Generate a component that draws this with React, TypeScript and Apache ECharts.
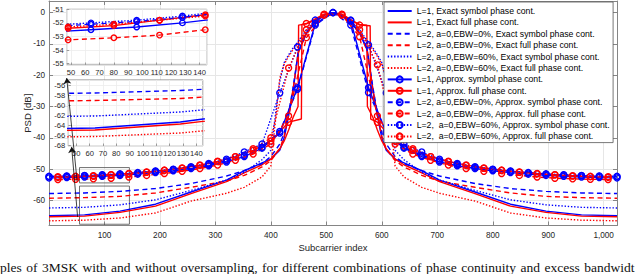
import { useEffect, useRef } from "react";
import * as echarts from "echarts";

// ---------- data ----------
const xExact = [0, 64, 128, 192, 256, 320, 352, 384, 400, 416, 424, 432, 440, 449, 450, 464, 480, 496, 512, 528, 544, 560, 573, 574, 584, 592, 600, 608, 624, 640, 672, 704, 768, 832, 896, 960, 1024];
const exactL1Symbol = [-64.9, -64.6, -63.4, -61.2, -57.3, -53.5, -50.5, -48.0, -46.8, -44.0, -40.0, -33.0, -25.0, -13.0, -12.3, -6.5, -3.0, -0.8, 0, -0.8, -3.0, -6.5, -11.6, -12.3, -25.0, -33.0, -40.0, -44.0, -46.8, -48.0, -50.5, -53.5, -57.3, -61.2, -63.4, -64.6, -64.9];
const exactL1Full = [-65.2, -65.0, -63.8, -61.8, -57.8, -54.0, -51.2, -48.6, -46.8, -43.5, -41.0, -37.5, -33.5, -30.0, -4.0, -3.6, -2.4, -0.6, 0, -0.6, -2.4, -3.8, -4.0, -30.0, -33.5, -37.5, -41.0, -43.5, -46.8, -48.6, -51.2, -54.0, -57.8, -61.8, -63.8, -65.0, -65.2];
const exactEbw0Symbol = [-57.8, -57.6, -57.1, -56.2, -54.6, -52.2, -50.5, -48.2, -46.0, -42.0, -38.5, -32.0, -24.0, -13.0, -12.3, -6.5, -3.0, -0.8, 0, -0.8, -3.0, -6.5, -11.6, -12.3, -24.0, -32.0, -38.5, -42.0, -46.0, -48.2, -50.5, -52.2, -54.6, -56.2, -57.1, -57.6, -57.8];
const exactEbw0Full = [-59.3, -59.1, -58.7, -57.6, -55.8, -53.8, -52.0, -49.3, -47.3, -43.5, -39.5, -32.5, -24.5, -13.3, -12.6, -6.7, -3.1, -0.8, 0, -0.8, -3.1, -6.7, -11.9, -12.6, -24.5, -32.5, -39.5, -43.5, -47.3, -49.3, -52.0, -53.8, -55.8, -57.6, -58.7, -59.1, -59.3];
const exactEbw60Symbol = [-62.4, -62.2, -61.4, -59.8, -56.8, -53.5, -51.0, -47.0, -44.0, -22.0, -16.0, -13.5, -11.3, -9.3, -9.0, -5.5, -2.5, -0.6, 0, -0.6, -2.5, -5.5, -8.8, -9.0, -11.3, -13.5, -16.0, -22.0, -44.0, -47.0, -51.0, -53.5, -56.8, -59.8, -61.4, -62.2, -62.4];
const exactEbw60Full = [-66.5, -66.3, -65.6, -64.0, -60.2, -57.7, -55.8, -52.5, -49.0, -21.0, -16.5, -14.0, -11.8, -9.8, -9.5, -5.8, -2.6, -0.7, 0, -0.7, -2.6, -5.8, -9.3, -9.5, -11.8, -14.0, -16.5, -21.0, -49.0, -52.5, -55.8, -57.7, -60.2, -64.0, -65.6, -66.3, -66.5];

const xBlueApprox = [0, 32, 64, 96, 128, 160, 192, 224, 256, 288, 320, 352, 384, 416, 448, 480, 512, 544, 576, 608, 640, 672, 704, 736, 768, 800, 832, 864, 896, 928, 960, 992, 1024];
const approxL1Symbol = [-52.8, -52.7, -52.5, -52.3, -52.0, -51.6, -51.1, -50.5, -49.8, -48.9, -47.7, -46.0, -43.3, -38.5, -24.0, -3.5, 0, -2.6, -24.0, -38.5, -43.3, -46.0, -47.7, -48.9, -49.8, -50.5, -51.1, -51.6, -52.0, -52.3, -52.5, -52.7, -52.8];
const approxEbw0Symbol = [-52.4, -52.3, -52.1, -51.9, -51.6, -51.2, -50.7, -50.1, -49.4, -48.5, -47.3, -45.6, -43.0, -38.0, -24.5, -4.0, 0, -4.0, -25.5, -38.0, -43.0, -45.6, -47.3, -48.5, -49.4, -50.1, -50.7, -51.2, -51.6, -51.9, -52.1, -52.3, -52.4];
const approxEbw60Symbol = [-52.3, -52.2, -52.0, -51.8, -51.5, -51.1, -50.6, -50.0, -49.2, -48.2, -46.8, -44.5, -42.0, -25.7, -11.0, -2.4, 0, -2.4, -10.3, -25.7, -42.0, -44.5, -46.8, -48.2, -49.2, -50.0, -50.6, -51.1, -51.5, -51.8, -52.0, -52.2, -52.3];

const xRedApprox = [16, 48, 80, 112, 144, 176, 208, 240, 272, 304, 336, 368, 400, 432, 464, 496, 528, 560, 592, 624, 656, 688, 720, 752, 784, 816, 848, 880, 912, 944, 976, 1008];
const approxEbw0Full = [-53.3, -53.25, -53.1, -52.9, -52.5, -52.0, -51.4, -50.7, -49.8, -48.7, -47.2, -45.2, -42.0, -33.0, -8.0, -0.8, -0.8, -7.7, -33.0, -42.0, -45.2, -47.2, -48.7, -49.8, -50.7, -51.4, -52.0, -52.5, -52.9, -53.1, -53.25, -53.3];
const approxEbw60Full = [-52.4, -52.3, -52.1, -51.8, -51.5, -51.0, -50.4, -49.7, -48.8, -47.6, -46.0, -43.5, -40.0, -17.7, -5.5, -0.6, -0.6, -5.5, -16.7, -40.0, -43.5, -46.0, -47.6, -48.8, -49.7, -50.4, -51.0, -51.5, -51.8, -52.1, -52.3, -52.4];

const xRedStepApprox = [16, 48, 80, 112, 144, 176, 208, 240, 272, 304, 336, 368, 400, 432, 455, 456, 464, 496, 528, 560, 579, 580, 592, 624, 656, 688, 720, 752, 784, 816, 848, 880, 912, 944, 976, 1008];
const approxL1Full = [-52.6, -52.4, -52.2, -51.8, -51.4, -50.9, -50.3, -49.6, -48.7, -47.5, -46.0, -44.0, -41.0, -35.0, -34.0, -3.8, -3.5, -0.5, -0.5, -4.0, -4.2, -34.0, -35.0, -41.0, -44.0, -46.0, -47.5, -48.7, -49.6, -50.3, -50.9, -51.4, -51.8, -52.2, -52.4, -52.6];

const legendNames = [
  "L=1, Exact symbol phase cont.",
  "L=1, Exact full phase cont.",
  "L=2, a=0,EBW=0%, Exact symbol phase cont.",
  "L=2, a=0,EBW=0%, Exact full phase cont.",
  "L=2, a=0,EBW=60%, Exact symbol phase cont.",
  "L=2, a=0,EBW=60%, Exact full phase cont.",
  "L=1, Approx. symbol phase cont.",
  "L=1, Approx. full phase cont.",
  "L=2, a=0,EBW=0%, Approx. symbol phase cont.",
  "L=2, a=0,EBW=0%, Approx. full phase cont.",
  "L=2,\u00a0 a=0,EBW=60%, Approx. symbol phase cont.",
  "L=2,\u00a0 a=0,EBW=60%, Approx. full phase cont.",
];

// zoom boxes and arrows (annotations, data coordinates)
const zoomBoxX = [55, 145];
const zoomBox1Y = [-49.5, -54.4];
const zoomBox2Y = [-55.4, -67.6];
const arrow1 = [[50.7, -53.8], [31.9, -20.9]];
const arrow2 = [[51.6, -65.3], [40.8, -42.9]];

const captionWords = [
  "ples", "of", "3MSK", "with", "and", "without", "oversampling,", "for", "different",
  "combinations", "of", "phase", "continuity", "and", "excess", "bandwidt",
];

const BLUE = "#0000ff";
const RED = "#ff0000";
const FONT = "Liberation Sans, Arial, Helvetica, sans-serif";
const TXT = "#262626";
const AXC = "#858585";

type Spec = {
  name: string;
  xs: number[];
  ys: number[];
  color: string;
  dash: any;
  marker: boolean;
  markerOffset?: number;
};

const DASHED = [5, 3.5];
const DOTTED = [1.4, 1.8];

const exactSpecs: Spec[] = [
  { name: legendNames[0], xs: xExact, ys: exactL1Symbol, color: BLUE, dash: "solid", marker: false },
  { name: legendNames[1], xs: xExact, ys: exactL1Full, color: RED, dash: "solid", marker: false },
  { name: legendNames[2], xs: xExact, ys: exactEbw0Symbol, color: BLUE, dash: DASHED, marker: false },
  { name: legendNames[3], xs: xExact, ys: exactEbw0Full, color: RED, dash: DASHED, marker: false },
  { name: legendNames[4], xs: xExact, ys: exactEbw60Symbol, color: BLUE, dash: DOTTED, marker: false },
  { name: legendNames[5], xs: xExact, ys: exactEbw60Full, color: RED, dash: DOTTED, marker: false },
];
const approxSpecs: Spec[] = [
  { name: legendNames[6], xs: xBlueApprox, ys: approxL1Symbol, color: BLUE, dash: "solid", marker: true, markerOffset: 0 },
  { name: legendNames[7], xs: xRedStepApprox, ys: approxL1Full, color: RED, dash: "solid", marker: true, markerOffset: 16 },
  { name: legendNames[8], xs: xBlueApprox, ys: approxEbw0Symbol, color: BLUE, dash: DASHED, marker: true, markerOffset: 0 },
  { name: legendNames[9], xs: xRedApprox, ys: approxEbw0Full, color: RED, dash: DASHED, marker: true, markerOffset: 16 },
  { name: legendNames[10], xs: xBlueApprox, ys: approxEbw60Symbol, color: BLUE, dash: DOTTED, marker: true, markerOffset: 0 },
  { name: legendNames[11], xs: xRedApprox, ys: approxEbw60Full, color: RED, dash: DOTTED, marker: true, markerOffset: 16 },
];

function makeSeries(s: Spec, axis: number, z: number, symSize: number) {
  const data = s.xs.map((x, i) => {
    if (!s.marker) return [x, s.ys[i]];
    const onGrid = (x - (s.markerOffset || 0)) % 32 === 0;
    return onGrid ? { value: [x, s.ys[i]] } : { value: [x, s.ys[i]], symbol: "none" };
  });
  return {
    type: "line",
    name: s.name,
    xAxisIndex: axis,
    yAxisIndex: axis,
    data,
    z,
    clip: true,
    silent: true,
    symbol: s.marker ? "circle" : "none",
    symbolSize: symSize,
    showAllSymbol: true,
    color: s.color,
    lineStyle: { color: s.color, width: 1.4, type: s.dash },
    itemStyle: s.marker
      ? { color: "rgba(255,255,255,0)", borderColor: s.color, borderWidth: 1.4 }
      : { color: "rgba(255,255,255,0)", borderColor: "rgba(255,255,255,0)", borderWidth: 0 },
    emphasis: { disabled: true },
  };
}

function insetX(grid: number, min: number, max: number) {
  return {
    type: "value",
    gridIndex: grid,
    min,
    max,
    splitNumber: 10,
    z: 3,
    axisLine: { show: false },
    axisTick: { show: true, inside: true, length: 2.5, lineStyle: { color: AXC, width: 0.8 } },
    axisLabel: { fontSize: 7.6, color: TXT, fontFamily: FONT, margin: 3, showMinLabel: false, showMaxLabel: false },
    splitLine: { show: true, lineStyle: { color: "#ececec", width: 0.8 } },
  };
}
function insetY(grid: number, min: number, max: number, split: number, showMax: boolean) {
  return {
    type: "value",
    gridIndex: grid,
    min,
    max,
    splitNumber: split,
    z: 3,
    axisLine: { show: false },
    axisTick: { show: true, inside: true, length: 2.5, lineStyle: { color: AXC, width: 0.8 } },
    axisLabel: { fontSize: 7.6, color: TXT, fontFamily: FONT, margin: 3, showMinLabel: false, showMaxLabel: showMax },
    splitLine: { show: true, lineStyle: { color: "#ececec", width: 0.8 } },
  };
}

export default function App() {
  const ref = useRef<HTMLDivElement>(null);
  useEffect(() => {
    if (!ref.current) return;
    const chart = echarts.init(ref.current, undefined, { renderer: "svg" });

    const mainSeries: any[] = [...exactSpecs, ...approxSpecs].map((s) => makeSeries(s, 0, 2, 6));
    mainSeries[0].markArea = {
      silent: true,
      itemStyle: { color: "rgba(0,0,0,0)", borderColor: "#4d4d4d", borderWidth: 0.8 },
      data: [
        [{ coord: [zoomBoxX[0], zoomBox1Y[0]] }, { coord: [zoomBoxX[1], zoomBox1Y[1]] }],
        [{ coord: [zoomBoxX[0], zoomBox2Y[0]] }, { coord: [zoomBoxX[1], zoomBox2Y[1]] }],
      ],
    };
    mainSeries[0].markLine = {
      silent: true,
      symbol: ["none", "arrow"],
      symbolSize: 6,
      label: { show: false },
      lineStyle: { color: "#111", width: 0.8, type: "solid" },
      emphasis: { disabled: true },
      data: [
        [{ coord: arrow1[0] }, { coord: arrow1[1] }],
        [{ coord: arrow2[0] }, { coord: arrow2[1] }],
      ],
    };
    const inset1Series = approxSpecs.map((s) => makeSeries(s, 2, 5, 5.5));
    const inset2Series = exactSpecs.map((s) => makeSeries(s, 3, 5, 5.5));

    const option: any = {
      animation: false,
      textStyle: { fontFamily: FONT },
      grid: [
        { left: 49, top: 1, width: 568, height: 224.5, show: false },
        { left: 66.7, top: 9.3, width: 140, height: 55.7, show: true, backgroundColor: "#fff", borderColor: AXC, borderWidth: 1, z: 1 },
        { left: 68.3, top: 80, width: 134.7, height: 66, show: true, backgroundColor: "#fff", borderColor: AXC, borderWidth: 1, z: 1 },
      ],
      xAxis: [
        {
          type: "value",
          gridIndex: 0,
          min: 0,
          max: 1024,
          interval: 100,
          name: "Subcarrier index",
          nameLocation: "middle",
          nameGap: 17,
          nameMoveOverlap: false,
          nameTextStyle: { fontSize: 9.5, color: TXT, fontFamily: FONT },
          axisLine: { show: true, onZero: false, lineStyle: { color: AXC, width: 1 } },
          axisTick: { show: true, inside: true, length: 4, lineStyle: { color: AXC } },
          axisLabel: { fontSize: 8.2, color: TXT, fontFamily: FONT, margin: 6, showMinLabel: false, showMaxLabel: false },
          splitLine: { show: true, lineStyle: { color: "#e6e6e6", width: 1 } },
        },
        {
          type: "value",
          gridIndex: 0,
          position: "top",
          min: 0,
          max: 1024,
          interval: 100,
          axisLine: { show: true, onZero: false, lineStyle: { color: AXC, width: 1 } },
          axisTick: { show: true, inside: true, length: 4, lineStyle: { color: AXC } },
          axisLabel: { show: false },
          splitLine: { show: false },
        },
        insetX(1, 47, 145),
        insetX(2, 44, 145),
      ],
      yAxis: [
        {
          type: "value",
          gridIndex: 0,
          min: -68,
          max: 3.7,
          splitNumber: 7,
          name: "PSD [dB]",
          nameLocation: "middle",
          nameGap: 17,
          nameMoveOverlap: false,
          nameRotate: 90,
          nameTextStyle: { fontSize: 9.5, color: TXT, fontFamily: FONT },
          axisLine: { show: true, onZero: false, lineStyle: { color: AXC, width: 1 } },
          axisTick: { show: true, inside: true, length: 4, lineStyle: { color: AXC } },
          axisLabel: { fontSize: 8.2, color: TXT, fontFamily: FONT, margin: 4, showMinLabel: false, showMaxLabel: false },
          splitLine: { show: true, lineStyle: { color: "#e6e6e6", width: 1 } },
        },
        {
          type: "value",
          gridIndex: 0,
          position: "right",
          min: -68,
          max: 3.7,
          splitNumber: 7,
          axisLine: { show: true, onZero: false, lineStyle: { color: AXC, width: 1 } },
          axisTick: { show: true, inside: true, length: 4, lineStyle: { color: AXC } },
          axisLabel: { show: false },
          splitLine: { show: false },
        },
        insetY(1, -55.1, -51, 4, true),
        insetY(2, -68.2, -55, 6, false),
      ],
      legend: {
        data: legendNames,
        orient: "vertical",
        left: 384,
        top: 2,
        itemWidth: 24,
        itemHeight: 7.5,
        itemGap: 0,
        padding: [3.3, 3, 0.5, 2.7],
        backgroundColor: "#fff",
        borderColor: "#555",
        borderWidth: 0.8,
        borderRadius: 0,
        selectedMode: false,
        z: 10,
        textStyle: { fontSize: 8.7, fontFamily: FONT, color: "#000", lineHeight: 11.4, padding: 0 },
      },
      graphic: [
        {
          type: "text",
          x: 0,
          y: 260,
          silent: true,
          style: {
            text: captionWords.join(" \u200a"),
            fill: "#111",
            fontFamily: "Liberation Serif, Times New Roman, serif",
            fontSize: 13.5,
            verticalAlign: "top",
          },
        },
      ],
      series: [...mainSeries, ...inset1Series, ...inset2Series],
    };
    chart.setOption(option);
    return () => chart.dispose();
  }, []);
  return (
    <div
      ref={ref}
      style={{ position: "fixed", left: 0, top: 0, width: 640, height: 274, background: "#fff" }}
    />
  );
}
